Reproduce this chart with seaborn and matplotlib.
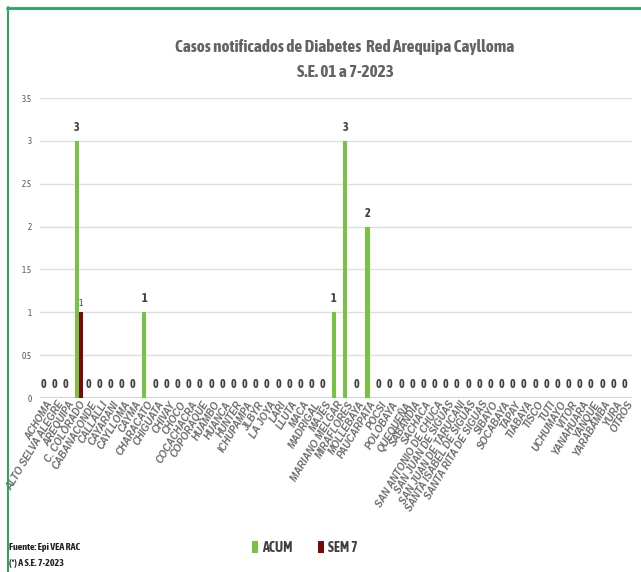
import time
import matplotlib
matplotlib.use("Agg")
import matplotlib.pyplot as plt
import matplotlib.font_manager as fm
from matplotlib.font_manager import FontProperties
from matplotlib.textpath import TextPath
from matplotlib.patches import Patch
from matplotlib.lines import Line2D
import seaborn as sns
import pandas as pd

# Districts of the health network (x categories)
categories = [
    "ACHOMA", "ALTO SELVA ALEGRE", "AREQUIPA", "C. COLORADO", "CABANACONDE",
    "CALLALLI", "CAYARANI", "CAYLLOMA", "CAYMA", "CHARACATO", "CHIGUATA",
    "CHIVAY", "CHOCO", "COCACHACRA", "COPORAQUE", "HUAMBO", "HUANCA", "HUNTER",
    "ICHUPAMPA", "JLBYR", "LA JOYA", "LARI", "LLUTA", "MACA", "MADRIGAL",
    "MAJES", "MARIANO MELGAR", "MIRAFLORES", "MOLLEBAYA", "PAUCARPATA", "POCSI",
    "POLOBAYA", "QUEQUEÑA", "SABANDIA", "SACHACA", "SAN ANTONIO DE CHUCA",
    "SAN JUAN DE SIGUAS", "SAN JUAN DE TARUCANI", "SANTA ISABEL DE SIGUAS",
    "SANTA RITA DE SIGUAS", "SIBAYO", "SOCABAYA", "TAPAY", "TIABAYA", "TISCO",
    "TUTI", "UCHUMAYO", "VITOR", "YANAHUARA", "YANQUE", "YARABAMBA", "YURA",
    "OTROS",
]

# Cumulative cases (S.E. 01-7) and cases in week 7
acum_cases = {"C. COLORADO": 3, "CHARACATO": 1, "MARIANO MELGAR": 1,
              "MIRAFLORES": 3, "PAUCARPATA": 2}
sem7_cases = {"C. COLORADO": 1}
acum = [acum_cases.get(c, 0) for c in categories]
sem7 = [sem7_cases.get(c, 0) for c in categories]

series_names = ["ACUM", "SEM 7"]
title_lines = ["Casos notificados de Diabetes  Red Arequipa Caylloma",
               "S.E. 01 a 7-2023"]
y_ticks = [0, 0.5, 1, 1.5, 2, 2.5, 3, 3.5]

df = pd.DataFrame({
    "distrito": categories * 2,
    "casos": acum + sem7,
    "serie": [series_names[0]] * len(categories) + [series_names[1]] * len(categories),
})

sns.set_theme(style="white")


# Pick a narrow sans face (relative to Arial metrics) when one is installed
def _text_width(prop):
    return TextPath((0, 0), "Casos notificados", size=10,
                    prop=prop).get_extents().width


ref_w = _text_width(FontProperties(family="Liberation Sans"))
best, best_r = None, 1.0
skip = ("Mono", "Serif", "CJK", "Math", "Symbol", "Emoji")
t0 = time.time()
checked = 0
for f in fm.fontManager.ttflist:
    if time.time() - t0 > 15 or checked > 40:
        break
    narrowish = ("Narrow" in f.name or "Condensed" in f.name
                 or str(f.stretch) in ("condensed", "semi-condensed", "extra-condensed"))
    if not narrowish or f.style != "normal" or f.weight not in (400, "normal", "regular"):
        continue
    if any(s in f.name for s in skip) or not f.fname.lower().endswith(".ttf"):
        continue
    checked += 1
    try:
        r = _text_width(FontProperties(fname=f.fname)) / ref_w
    except Exception:
        continue
    if 0.62 <= r <= 0.92 and abs(r - 0.8) < abs(best_r - 0.8):
        best, best_r = f, r

if best is not None:
    base_family, stretch, r = best.name, best.stretch, best_r
else:
    base_family, stretch, r = "Liberation Sans", "normal", 1.0
plt.rcParams["font.family"] = [base_family, "DejaVu Sans"]
plt.rcParams["font.stretch"] = stretch


def fs(arial_equiv):
    """Font size giving the same text width as Arial at `arial_equiv` pt."""
    return arial_equiv / r


# Bold italic face for the district labels
tick_file, tick_size = None, 7.0
for f in fm.fontManager.ttflist:
    if f.name == "Liberation Sans" and f.style == "italic" and f.weight in (700, "bold"):
        tick_file = f.fname
        break
if tick_file is None:
    for f in fm.fontManager.ttflist:
        if f.name == "DejaVu Sans" and f.style in ("oblique", "italic") \
                and f.weight in (700, "bold") and f.stretch == "normal":
            tick_file, tick_size = f.fname, 6.2
            break
tick_prop = (FontProperties(fname=tick_file, size=tick_size) if tick_file else
             FontProperties(family="DejaVu Sans", style="italic", weight="bold",
                            stretch="normal", size=6.2))

green = "#76C442"
dark_red = "#7A0A0A"
txt_gray = "#595959"

fig = plt.figure(figsize=(6.41, 5.72), dpi=100)
ax = fig.add_axes([40 / 641, 1 - 398 / 572, 592 / 641, 300 / 572])

sns.barplot(data=df, x="distrito", y="casos", hue="serie", order=categories,
            hue_order=series_names, palette=[green, dark_red], width=0.72,
            saturation=1, legend=False, ax=ax, edgecolor="none")

ax.set_ylim(0, 3.5)
ax.set_xlim(-0.5, len(categories) - 0.5)
ax.set_yticks(y_ticks)
ax.set_yticklabels([f"{t:g}" for t in y_ticks], fontsize=fs(5.2), color=txt_gray)
ax.tick_params(axis="y", length=0, pad=6)
ax.tick_params(axis="x", length=0, pad=1)
ax.set_xticks(range(len(categories)))
ax.set_xticklabels(categories, rotation=59, ha="right", rotation_mode="anchor",
                   fontproperties=tick_prop, color="#6b6b6b")
ax.set_xlabel("")
ax.set_ylabel("")
for s in ax.spines.values():
    s.set_visible(False)
for t in y_ticks[1:]:
    ax.axhline(t, color="#dedede", lw=1.0, zorder=0)
ax.axhline(0, color="#d4d4d4", lw=1.6, zorder=0)

# Value labels: every cumulative bar, only non-zero weekly bars
acum_bars, sem_bars = ax.containers[0], ax.containers[1]
ax.bar_label(acum_bars, labels=[f"{v:g}" for v in acum], padding=5,
             fontsize=fs(7.0), fontweight="bold", color="#404040")
ax.bar_label(sem_bars, labels=[f"{v:g}" if v else "" for v in sem7], padding=3,
             fontsize=fs(5.5), color="#404040")

fig.text(345 / 641, 1 - 47 / 572, title_lines[0], ha="center", va="center",
         fontsize=fs(10.0), fontweight="bold", color="#636363")
fig.text(345 / 641, 1 - 72 / 572, title_lines[1], ha="center", va="center",
         fontsize=fs(10.0), fontweight="bold", color="#636363")

handles = [Patch(facecolor=green, edgecolor="none"),
           Patch(facecolor=dark_red, edgecolor="none")]
fig.legend(handles, series_names, loc="center", bbox_to_anchor=(305 / 641, 1 - 548 / 572),
           ncol=2, frameon=False, handlelength=0.45, handleheight=1.0,
           handletextpad=0.3, columnspacing=1.8,
           prop={"weight": "bold", "size": fs(8.0), "stretch": stretch,
                 "family": [base_family, "DejaVu Sans"]},
           labelcolor="#404040")

fig.text(9 / 641, 1 - 548 / 572, "Fuente: Epi VEA RAC", ha="left", va="center",
         fontsize=fs(5.8), fontweight="bold", color="#222222")
fig.text(9 / 641, 1 - 563 / 572, "(*) A S.E. 7-2023", ha="left", va="center",
         fontsize=fs(5.8), fontweight="bold", color="#222222")

# Green frame along top and left edges
border = "#21A85A"
fig.add_artist(Line2D([7 / 641, 1], [1 - 7.5 / 572] * 2, color=border, lw=2.0,
                      transform=fig.transFigure))
fig.add_artist(Line2D([7.5 / 641] * 2, [0, 1 - 7 / 572], color=border, lw=1.4,
                      transform=fig.transFigure))

fig.savefig("out.png", dpi=100)
